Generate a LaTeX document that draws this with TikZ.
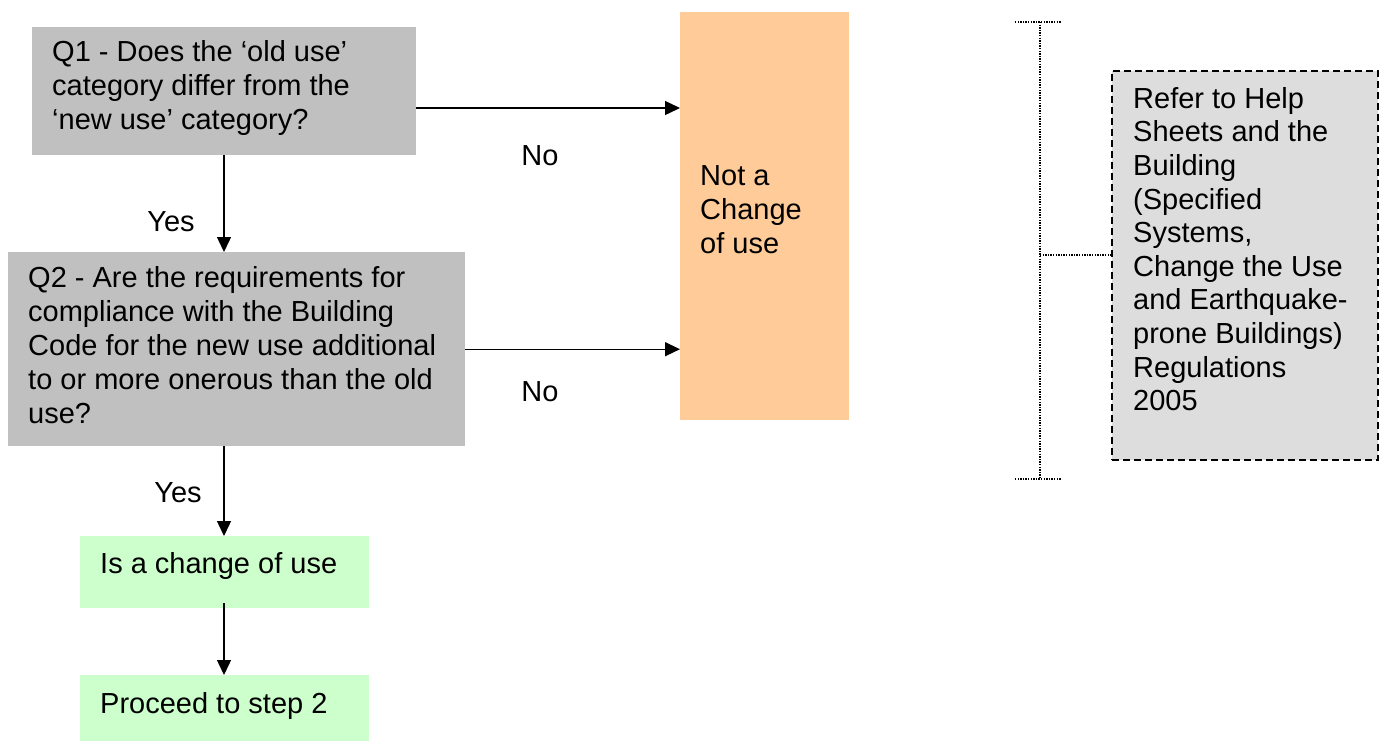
\documentclass[tikz,border=0pt]{standalone}
\usepackage{fontspec}
\setmainfont{Liberation Sans}
\usetikzlibrary{arrows.meta}
\definecolor{qgray}{HTML}{C0C0C0}
\definecolor{norange}{HTML}{FFCC99}
\definecolor{ygreen}{HTML}{CCFFCC}
\definecolor{notegray}{HTML}{DDDDDD}
\tikzset{
  box/.style={draw=none, rectangle, inner sep=0pt, anchor=north west},
  txt/.style={anchor=north west, inner sep=0pt, align=left,
    font=\fontsize{29}{34}\selectfont},
  lbl/.style={anchor=base, inner sep=0pt, font=\fontsize{29}{34}\selectfont},
  arr/.style={line width=1.4pt, -{Triangle[length=15pt,width=14pt]}},
  brk/.style={line width=1.3pt, dash pattern=on 1.3pt off 1.3pt},
}
\begin{document}
\begin{tikzpicture}[x=1pt, y=-1pt]
\useasboundingbox (0,0) rectangle (1383,742);

% boxes
\node[box, fill=qgray, minimum width=384pt, minimum height=128pt] (q1) at (32,27) {};
\node[box, fill=qgray, minimum width=457pt, minimum height=194pt] (q2) at (8,252) {};
\node[box, fill=norange, minimum width=169pt, minimum height=408pt] (nc) at (680,12) {};
\node[box, fill=ygreen, minimum width=289pt, minimum height=72pt] (is) at (80,536) {};
\node[box, fill=ygreen, minimum width=289pt, minimum height=66pt] (pr) at (80,675) {};
\node[box, fill=notegray, draw=black, line width=1.8pt, dash pattern=on 7pt off 4pt,
  minimum width=266pt, minimum height=389pt] (note) at (1111,70) {};

% texts (top = first baseline - 23.8)
\node[txt] (q1t) at (52,37.2) {\strut Q1 - Does the ‘old use’\\category differ from the\\‘new use’ category?};
\node[txt] (q2t) at (28,263.2) {\strut Q2 - Are the requirements for\\compliance with the Building\\Code for the new use additional\\to or more onerous than the old\\use?};
\node[txt] (nct) at (700,161.2) {\strut Not a\\Change\\of use};
\node[txt] (ist) at (100,549.2) {\strut Is a change of use};
\node[txt] (prt) at (100,689.2) {\strut Proceed to step 2};
\node[txt, font=\fontsize{29}{33.6}\selectfont] (notet) at (1133,84.6) {\strut Refer to Help\\Sheets and the\\Building\\(Specified\\Systems,\\Change the Use\\and Earthquake-\\prone Buildings)\\Regulations\\2005};

% connector labels
\node[lbl] (no1) at (540,165) {No};
\node[lbl] (no2) at (540,401) {No};
\node[lbl] (yes1) at (171,231) {Yes};
\node[lbl] (yes2) at (178,502) {Yes};

% connectors
\coordinate (vx) at (224,0);
\coordinate (h1) at (0,108);
\draw[arr] (q1.east |- h1) -- (nc.west |- h1);
\draw[arr] (q2.east) -- (q2.east -| nc.west);
\draw[arr] (q1.south -| vx) -- (q2.north -| vx);
\draw[arr] (q2.south -| vx) -- (is.north -| vx);
\draw[arr] ([yshift=5pt]is.south -| vx) -- (pr.north -| vx);

% dotted bracket
\coordinate (bt) at (1040,22);
\coordinate (bb) at (1040,479);
\coordinate (bm) at (1040,255);
\draw[brk] ([xshift=-25pt]bt) -- ([xshift=21pt]bt);
\draw[brk] ([xshift=-25pt]bb) -- ([xshift=21pt]bb);
\draw[brk] (bt) -- (bb);
\draw[brk] (bm) -- (bm -| note.west);
\end{tikzpicture}
\end{document}
